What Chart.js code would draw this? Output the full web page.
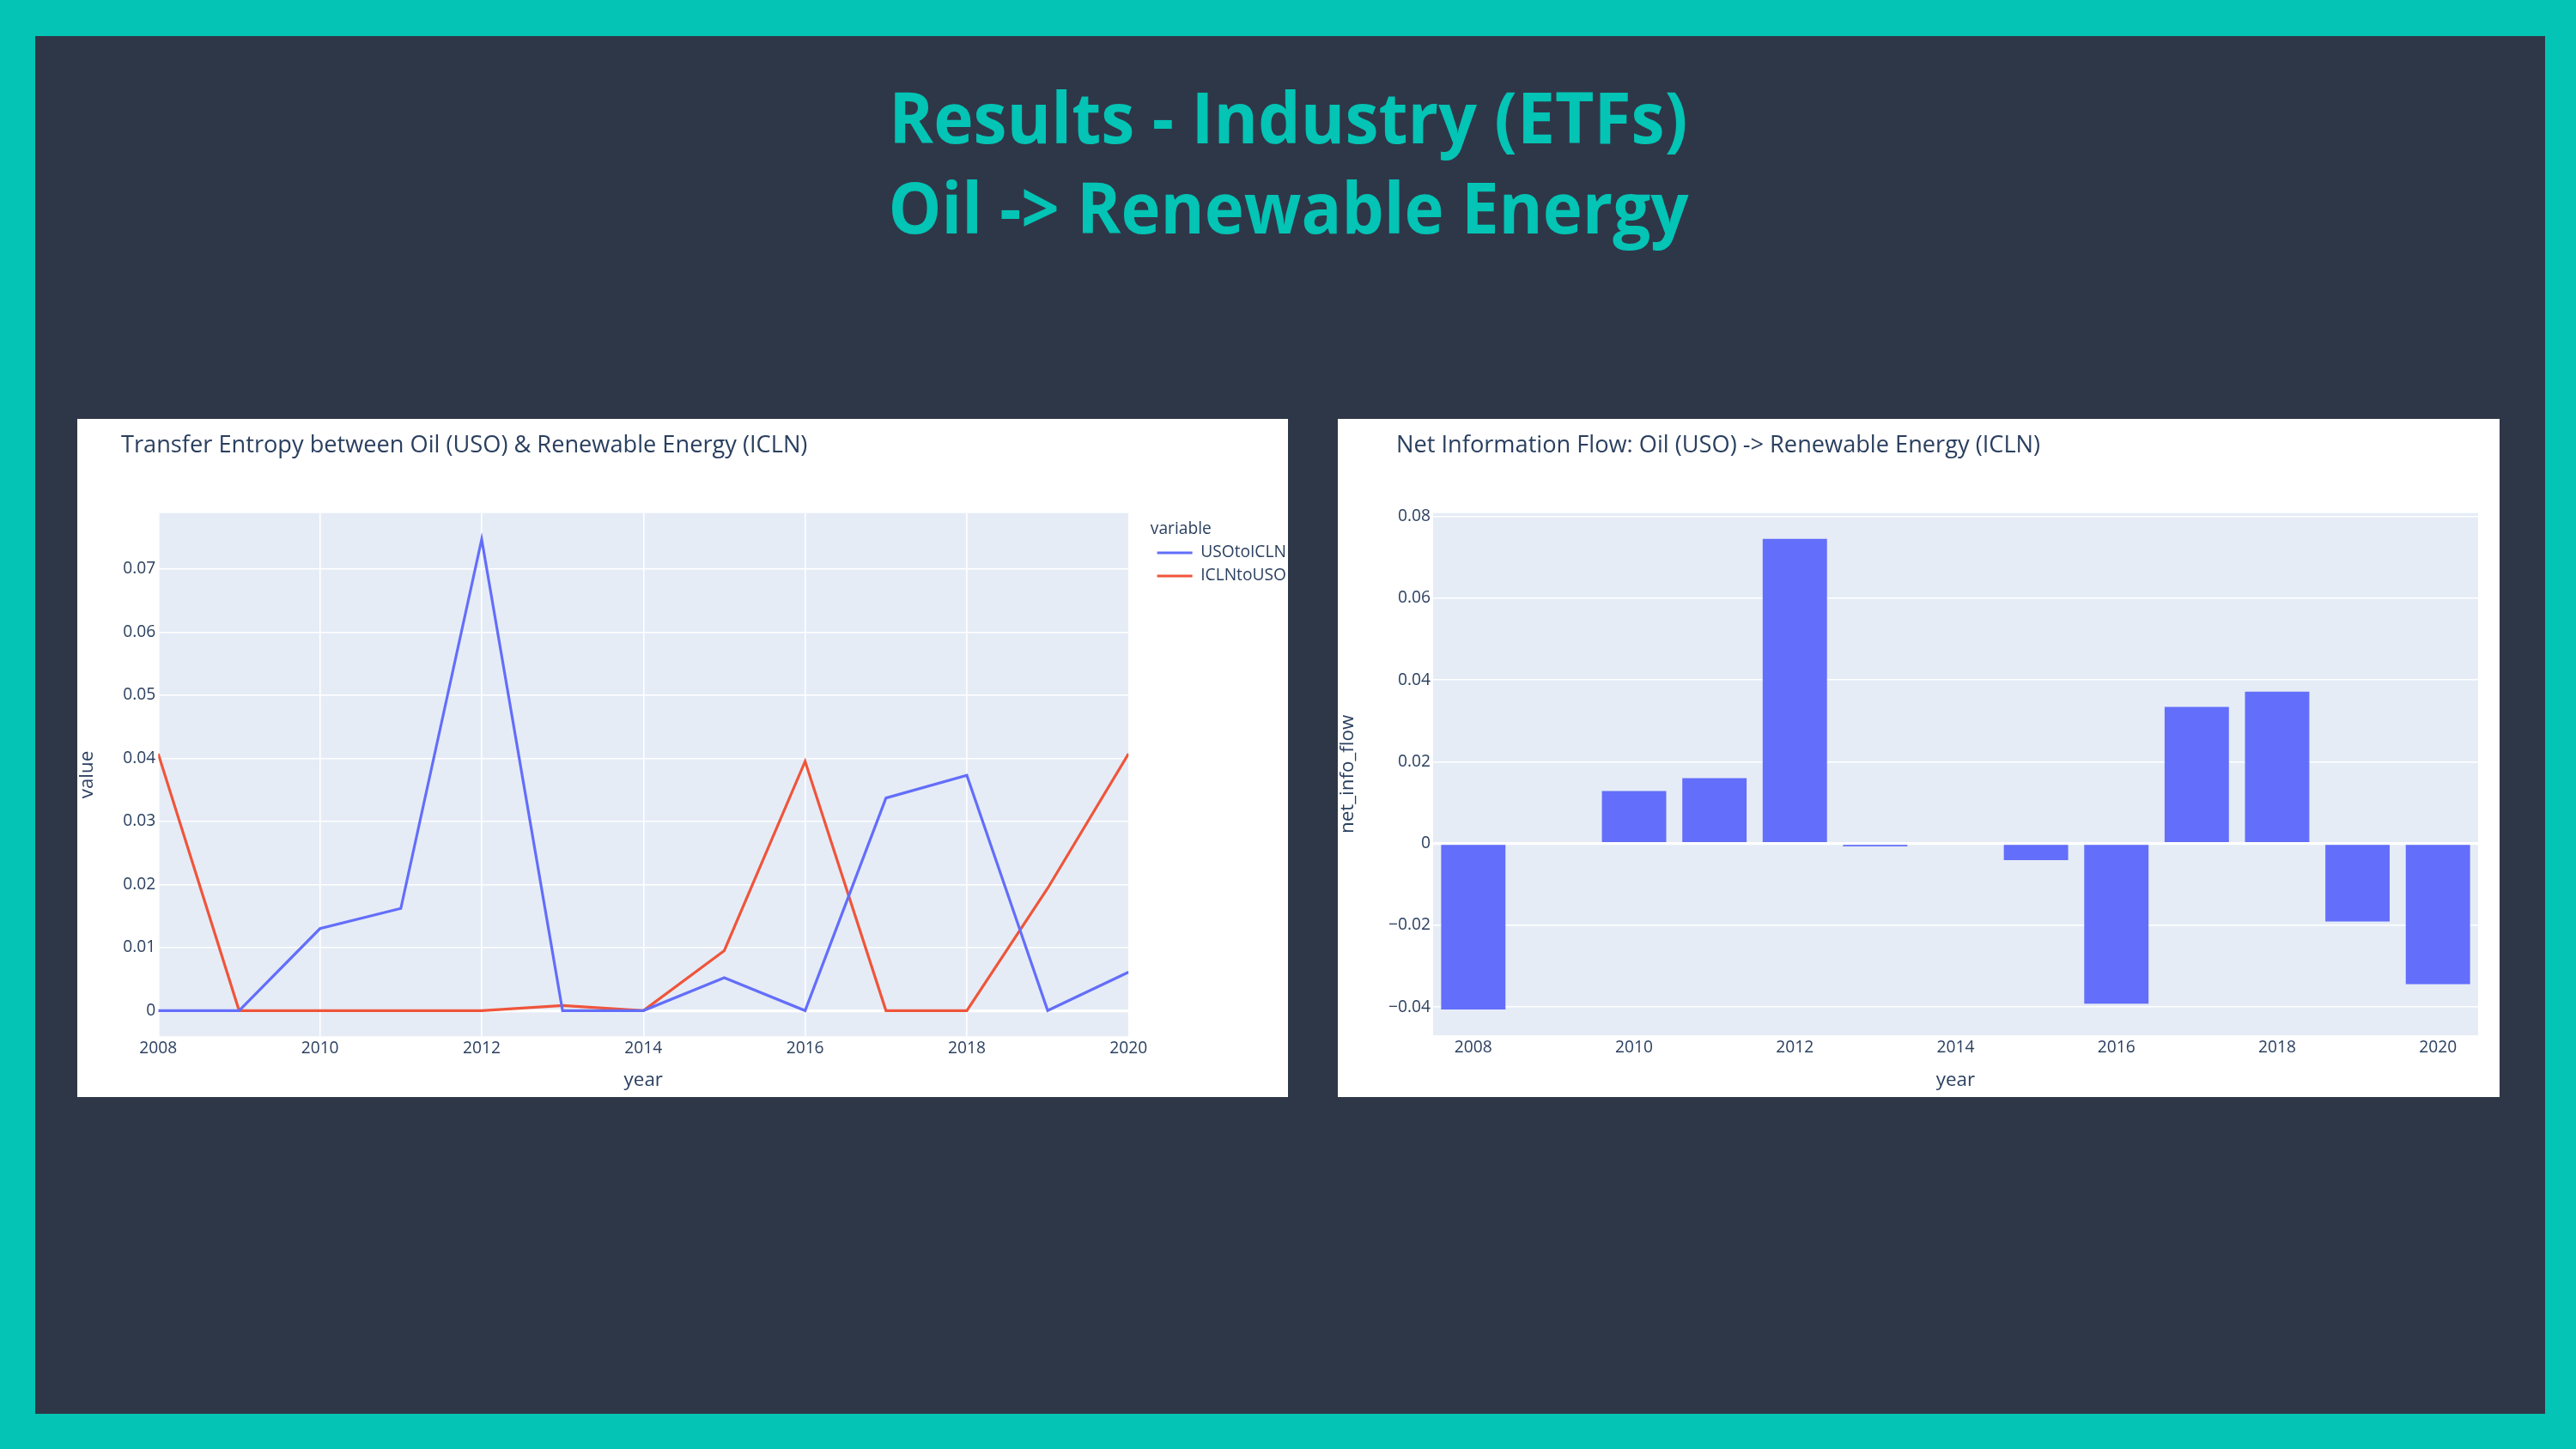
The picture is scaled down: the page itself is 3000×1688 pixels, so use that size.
<!DOCTYPE html>
<html>
<head>
<meta charset="utf-8">
<script src="https://cdn.jsdelivr.net/npm/chart.js@4.4.1/dist/chart.umd.min.js"></script>
<style>
  html, body { margin: 0; padding: 0; }
  body { width: 3000px; height: 1688px; background: #03C4B5; position: relative; overflow: hidden; font-family: "Open Sans", sans-serif; }
  #slide { position: absolute; left: 41px; top: 42px; width: 2923px; height: 1605px; background: #2E3748; }
  .head { position: absolute; left: 0; width: 3000px; text-align: center; color: #03C4B5; font-family: "Open Sans", sans-serif; font-weight: 700; font-size: 83px; line-height: 83px; white-space: nowrap; }
  .head span { display: inline-block; transform-origin: 50% 50%; }
  .panel { position: absolute; background: #ffffff; top: 488px; height: 790px; }
  #p1 { left: 90px; width: 1410px; }
  #p2 { left: 1558px; width: 1353px; }
  .ctitle { position: absolute; top: 14.6px; font-family: "Open Sans", sans-serif; font-size: 27.2px; line-height: 27.2px; color: #2a3f5f; white-space: nowrap; }
  canvas { position: absolute; left: 0; top: 0; }
</style>
</head>
<body>
<div id="slide"></div>
<div class="head" id="h1" style="top:93px"><span data-w="930">Results - Industry (ETFs)</span></div>
<div class="head" id="h2" style="top:198px"><span data-w="932">Oil -&gt; Renewable Energy</span></div>

<div class="panel" id="p1">
  <canvas id="c1" width="1410" height="790"></canvas>
  <div class="ctitle" style="left:51px">Transfer Entropy between Oil (USO) &amp; Renewable Energy (ICLN)</div>
</div>
<div class="panel" id="p2">
  <canvas id="c2" width="1353" height="790"></canvas>
  <div class="ctitle" style="left:68px">Net Information Flow: Oil (USO) -&gt; Renewable Energy (ICLN)</div>
</div>

<script>
// ---- data ----
const years = [2008, 2009, 2010, 2011, 2012, 2013, 2014, 2015, 2016, 2017, 2018, 2019, 2020];
const usoToIcln = [0, 0, 0.0130, 0.0162, 0.0747, 0, 0, 0.0052, 0, 0.0337, 0.0373, 0, 0.0061];
const iclnToUso = [0.0407, 0, 0, 0, 0, 0.0008, 0, 0.0095, 0.0395, 0, 0, 0.0194, 0.0407];
const netInfoFlow = [-0.0406, 0, 0.0128, 0.0160, 0.0745, -0.0007, 0, -0.0041, -0.0392, 0.0334, 0.0371, -0.0191, -0.0344];
const yearTicks = [2008, 2010, 2012, 2014, 2016, 2018, 2020];
const entropyTicks = [0, 0.01, 0.02, 0.03, 0.04, 0.05, 0.06, 0.07];
const netTicks = [-0.04, -0.02, 0, 0.02, 0.04, 0.06, 0.08];
const seriesNames = ['USOtoICLN', 'ICLNtoUSO'];

// ---- heading width fit ----
document.querySelectorAll('.head span').forEach(sp => {
  const w = sp.getBoundingClientRect().width;
  sp.style.transform = 'scaleX(' + (parseFloat(sp.dataset.w) / w) + ')';
});

// ---- chart setup ----
const TXT = '#2a3f5f';
const TICK = 19.2, AXT = 22.4;
Chart.defaults.font.family = '"Open Sans", sans-serif';
Chart.defaults.color = TXT;

const plotBg = {
  id: 'plotBg',
  beforeDraw(chart, args, opts) {
    const a = chart.chartArea, ctx = chart.ctx;
    ctx.save();
    ctx.fillStyle = opts.color || '#E5ECF6';
    ctx.fillRect(a.left, a.top, a.right - a.left, a.bottom - a.top);
    ctx.restore();
  }
};
const legendShift = {
  id: 'legendShift',
  afterLayout(chart, args, opts) {
    const l = chart.legend;
    if (l && opts.dx) { l.left += opts.dx; l.right += opts.dx; }
  }
};

const gridW = c => (c.tick && c.tick.value === 0) ? 3.2 : 1.6;
const fmtNum = v => v < 0 ? '\u2212' + String(-v) : String(v);

const c1 = new Chart(document.getElementById('c1'), {
  type: 'line',
  data: {
    labels: years,
    datasets: [
      { label: seriesNames[0], data: years.map((y, i) => ({ x: y, y: usoToIcln[i] })), borderColor: '#636EFA', backgroundColor: '#636EFA', borderWidth: 3.2, pointRadius: 0, tension: 0 },
      { label: seriesNames[1], data: years.map((y, i) => ({ x: y, y: iclnToUso[i] })), borderColor: '#EF553B', backgroundColor: '#EF553B', borderWidth: 3.2, pointRadius: 0, tension: 0 }
    ]
  },
  options: {
    responsive: false, animation: false,
    layout: { padding: { top: 109.7, right: 20, bottom: 0, left: 0 } },
    plugins: {
      tooltip: { enabled: false },
      plotBg: { color: '#E5ECF6' },
      legendShift: { dx: 25.5 },
      legend: {
        position: 'right', align: 'start',
        title: { display: true, text: 'variable', color: TXT, position: 'start', font: { size: TICK, lineHeight: 1 }, padding: { top: 9.7, bottom: 0 } },
        labels: { usePointStyle: true, pointStyle: 'line', pointStyleWidth: 41, padding: 7.8, color: TXT, font: { size: TICK } }
      }
    },
    scales: {
      x: {
        type: 'linear', min: 2008, max: 2020,
        afterBuildTicks: s => { s.ticks = yearTicks.map(v => ({ value: v })); },
        afterFit: s => { s.height = 70.7; },
        grid: { color: '#ffffff', lineWidth: 1.6, drawTicks: false },
        border: { display: false },
        ticks: { padding: 3, autoSkip: false, maxRotation: 0, font: { size: TICK }, callback: v => String(v) },
        title: { display: true, text: 'year', font: { size: AXT, lineHeight: 1 }, padding: { top: 0, bottom: 8.3 } }
      },
      y: {
        type: 'linear', min: -0.00408, max: 0.07886,
        afterBuildTicks: s => { s.ticks = entropyTicks.map(v => ({ value: v })); },
        afterFit: s => { s.width = 94.3; },
        grid: { color: '#ffffff', lineWidth: gridW, drawTicks: false },
        border: { display: false },
        ticks: { padding: 3, font: { size: TICK }, callback: v => fmtNum(v) },
        title: { display: true, text: 'value', font: { size: AXT, lineHeight: 1 }, padding: { top: 0, bottom: 0 } }
      }
    }
  },
  plugins: [plotBg, legendShift]
});
// settle the plot's right edge where the reference has it (legend width comes from measured text)
(function () {
  const target = 1224.3;
  const diff = target - c1.chartArea.right;
  if (Math.abs(diff) > 0.2) {
    c1.config.options.layout.padding.right -= diff;
    c1.update();
  }
})();

new Chart(document.getElementById('c2'), {
  type: 'bar',
  data: {
    labels: years.map(String),
    datasets: [
      { label: 'net_info_flow', data: netInfoFlow, backgroundColor: '#636EFA', borderWidth: 0, barPercentage: 0.8, categoryPercentage: 1.0 }
    ]
  },
  options: {
    responsive: false, animation: false,
    layout: { padding: { top: 109.7, right: 25, bottom: 0, left: 0 } },
    plugins: {
      tooltip: { enabled: false },
      legend: { display: false },
      plotBg: { color: '#E5ECF6' }
    },
    scales: {
      x: {
        type: 'category',
        afterFit: s => { s.height = 72; },
        grid: { display: false, drawTicks: false },
        border: { display: false },
        ticks: { padding: 3, autoSkip: false, maxRotation: 0, font: { size: TICK },
          callback: (v, i) => yearTicks.includes(years[i]) ? String(years[i]) : '' },
        title: { display: true, text: 'year', font: { size: AXT, lineHeight: 1 }, padding: { top: 0, bottom: 8.3 } }
      },
      y: {
        type: 'linear', min: -0.0469, max: 0.0808,
        afterBuildTicks: s => { s.ticks = netTicks.map(v => ({ value: v })); },
        afterFit: s => { s.width = 111; },
        grid: { color: '#ffffff', lineWidth: gridW, drawTicks: false },
        border: { display: false },
        ticks: { padding: 3, font: { size: TICK }, callback: v => fmtNum(v) },
        title: { display: true, text: 'net_info_flow', font: { size: AXT, lineHeight: 1 }, padding: { top: 0, bottom: 0 } }
      }
    }
  },
  plugins: [plotBg]
});
</script>
</body>
</html>
